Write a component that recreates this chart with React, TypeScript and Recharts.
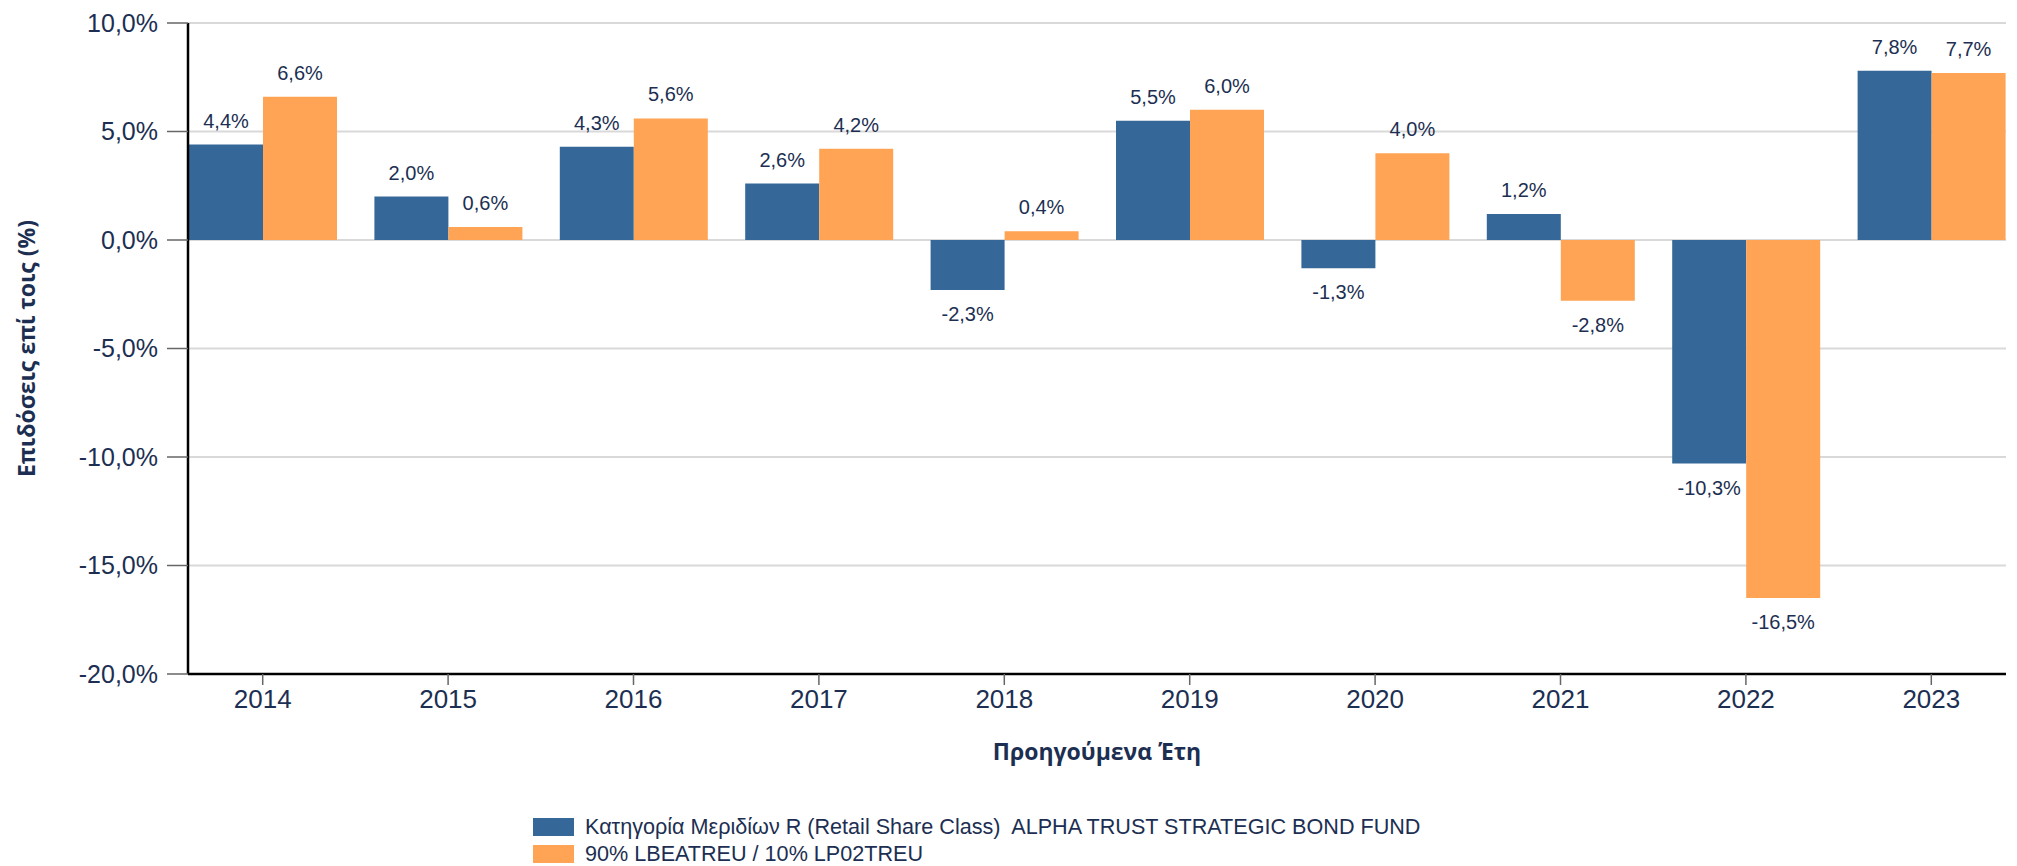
import React from 'react';
import { BarChart, Bar, XAxis, YAxis, CartesianGrid, LabelList, Label } from 'recharts';

const years = ['2014', '2015', '2016', '2017', '2018', '2019', '2020', '2021', '2022', '2023'];
const fundValues = [4.4, 2.0, 4.3, 2.6, -2.3, 5.5, -1.3, 1.2, -10.3, 7.8];
const benchValues = [6.6, 0.6, 5.6, 4.2, 0.4, 6.0, 4.0, -2.8, -16.5, 7.7];
const yTicks = [-20, -15, -10, -5, 0, 5, 10];
const fundName = 'Κατηγορία Μεριδίων R (Retail Share Class)  ALPHA TRUST STRATEGIC BOND FUND';
const benchName = '90% LBEATREU / 10% LP02TREU';

const data = years.map((y, i) => ({ year: y, fund: fundValues[i], bench: benchValues[i] }));

const NAVY = '#1c2f52';
const BLUE = '#356899';
const ORANGE = '#ffa354';

const fmt = (v: number) => v.toFixed(1).replace('.', ',') + '%';

const ValueLabel = (props: any) => {
  const { x, y, width, height, value } = props;
  const top = Math.min(y, y + height);
  const bottom = Math.max(y, y + height);
  const cx = x + width / 2;
  const ty = value >= 0 ? top - 17 : bottom + 31;
  return (
    <text x={cx} y={ty} textAnchor="middle" fill={NAVY} fontSize={20} fontFamily="Liberation Sans, Arial, sans-serif">
      {fmt(value)}
    </text>
  );
};

const legendItems = [
  { name: fundName, color: BLUE },
  { name: benchName, color: ORANGE },
];

export default function App() {
  return (
    <div style={{ position: 'absolute', left: 0, top: 0, width: 2017, height: 866, background: '#fff' }}>
      <BarChart
        width={2017}
        height={866}
        data={data}
        margin={{ top: 23, right: 11, bottom: 92, left: 0 }}
        barGap={0}
      >
        <CartesianGrid vertical={false} stroke="#d9d9d9" strokeWidth={2} />
        <XAxis
          dataKey="year"
          padding={{ left: -18, right: -18 }}
          height={100}
          axisLine={{ stroke: '#000', strokeWidth: 2.5 }}
          tickLine={{ stroke: '#666', strokeWidth: 1.5 }}
          tickSize={11}
          tickMargin={5}
          tick={{ fill: NAVY, fontSize: 26, fontFamily: 'Liberation Sans, Arial, sans-serif' }}
        >
          <Label
            value="Προηγούμενα Έτη"
            position="insideTop"
            offset={70}
            style={{ fill: NAVY, fontSize: 23, fontWeight: 700, fontFamily: '"Open Sans", sans-serif' }}
          />
        </XAxis>
        <YAxis
          width={188}
          domain={[-20, 10]}
          ticks={yTicks}
          interval={0}
          tickFormatter={(v: number) => fmt(v)}
          axisLine={{ stroke: '#000', strokeWidth: 2.5 }}
          tickLine={{ stroke: '#666', strokeWidth: 1.5 }}
          tickSize={21}
          tickMargin={9}
          tick={{ fill: NAVY, fontSize: 25, fontFamily: 'Liberation Sans, Arial, sans-serif' }}
        >
          <Label
            value="Επιδόσεις επί τοις (%)"
            angle={-90}
            position="insideLeft"
            offset={27}
            style={{ textAnchor: 'middle', fill: NAVY, fontSize: 23, fontWeight: 700, fontFamily: '"Open Sans", sans-serif' }}
          />
        </YAxis>
        <Bar dataKey="fund" name={fundName} fill={BLUE} barSize={74} isAnimationActive={false}>
          <LabelList dataKey="fund" content={<ValueLabel />} />
        </Bar>
        <Bar dataKey="bench" name={benchName} fill={ORANGE} barSize={74} isAnimationActive={false}>
          <LabelList dataKey="bench" content={<ValueLabel />} />
        </Bar>
      </BarChart>
      <div
        style={{
          position: 'absolute',
          left: 533,
          top: 813,
          fontFamily: '"Liberation Sans Narrow", "Arial Narrow", "Liberation Sans", Arial, sans-serif',
          fontSize: 21.6,
          color: NAVY,
          lineHeight: '27px',
        }}
      >
        {legendItems.map((it) => (
          <div key={it.name} style={{ display: 'flex', alignItems: 'center', height: 27 }}>
            <span style={{ display: 'inline-block', width: 41, height: 18, background: it.color, marginRight: 11 }} />
            <span style={{ whiteSpace: 'pre' }}>{it.name}</span>
          </div>
        ))}
      </div>
    </div>
  );
}
